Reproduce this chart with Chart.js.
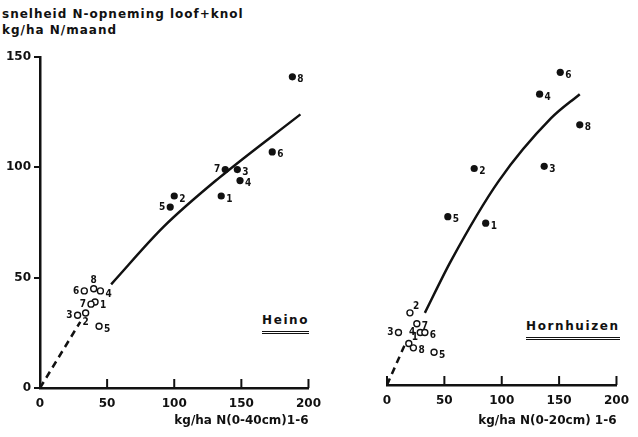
<!DOCTYPE html>
<html>
<head>
<meta charset="utf-8">
<script src="https://cdn.jsdelivr.net/npm/chart.js@4.4.1/dist/chart.umd.min.js"></script>
<style>
  body { margin: 0; background: #fff; width: 638px; height: 437px; overflow: hidden; position: relative;
         font-family: "DejaVu Sans", sans-serif; font-weight: bold; color: #111; }
  canvas { position: absolute; top: 0; }
  .txt { position: absolute; font-size: 12px; white-space: nowrap; letter-spacing: 1px; }
  .site { border-bottom: 3px double #111; padding-bottom: 4px; letter-spacing: 1.6px; }
</style>
</head>
<body>
<div class="txt" style="left:2px;top:7px">snelheid N-opneming loof+knol</div>
<div class="txt" style="left:2px;top:23px">kg/ha N/maand</div>
<div class="txt site" style="left:262px;top:313px">Heino</div>
<div class="txt site" style="left:526px;top:319px">Hornhuizen</div>
<canvas id="left" width="330" height="437" style="left:0"></canvas>
<canvas id="right" width="308" height="437" style="left:330px"></canvas>
<script>
// ── Data ──────────────────────────────────────────────────────────────────
const pointLabels = ['1', '2', '3', '4', '5', '6', '7', '8']

// Heino, kg/ha N (0-40 cm)
const heinoFilledX = [135, 100, 147, 149, 97, 173, 138, 188]
const heinoFilledY = [87, 87, 99, 94, 82, 107, 99, 141]
const heinoOpenX   = [41, 34, 28, 45, 44, 33, 38, 40]
const heinoOpenY   = [39, 34, 33, 44, 28, 44, 38, 45]
const heinoCurveX  = [53, 92, 133, 194]
const heinoCurveY  = [47, 73, 95, 124]
const heinoDashX   = [0, 30]
const heinoDashY   = [0, 30]

// Hornhuizen, kg/ha N (0-20 cm) – no point 7 visible among the filled ones
const hornFilledLabels = ['1', '2', '3', '4', '5', '6', '8']
const hornFilledX = [86, 76, 137, 133, 53, 151, 168]
const hornFilledY = [74, 99, 100, 133, 77, 143, 119]
const hornOpenX   = [19, 20, 10, 29, 41, 33, 26, 23]
const hornOpenY   = [19, 33, 24, 24, 15, 24, 28, 17]
const hornCurveX  = [33, 56, 97, 143, 168]
const hornCurveY  = [33, 57, 93, 122, 133]
const hornDashX   = [0, 16]
const hornDashY   = [0, 19]

const xTicks = [0, 50, 100, 150, 200]
const yTicks = [0, 50, 100, 150]

// where each number sits relative to its point (default: right, subscript-ish)
const sides = {
  heinoFilled: { '5': 'l', '7': 'l' },
  heinoOpen:   { '3': 'l', '6': 'l', '7': 'l', '8': 't', '2': 'b' },
  hornOpen:    { '3': 'l', '4': 'l', '2': 'tr', '1': 'tr' }
}

const INK = '#111'
const xy = (xs, ys) => xs.map((x, i) => ({ x, y: ys[i] }))

// ── Plugin: point numbers + inward x tick marks ──────────────────────────
const marks = {
  id: 'marks',
  afterDatasetsDraw(chart) {
    const ctx = chart.ctx
    ctx.save()
    ctx.fillStyle = INK
    ctx.font = 'bold 10px "DejaVu Sans Condensed", "DejaVu Sans"'
    ctx.textBaseline = 'middle'
    chart.data.datasets.forEach((ds, i) => {
      if (!ds.numbers) return
      chart.getDatasetMeta(i).data.forEach((el, j) => {
        const lab = ds.numbers[j]
        const side = (ds.sides && ds.sides[lab]) || 'r'
        let dx = 5, dy = 3, align = 'left'
        if (side === 'l') { dx = -5; dy = 0; align = 'right' }
        if (side === 't') { dx = 0; dy = -8; align = 'center' }
        if (side === 'b') { dx = 0; dy = 9; align = 'center' }
        if (side === 'tr') { dx = 3; dy = -6; align = 'left' }
        ctx.textAlign = align
        ctx.fillText(lab, el.x + dx, el.y + dy)
      })
    })
    const xs = chart.scales.x
    const yb = chart.chartArea.bottom
    ctx.strokeStyle = INK
    ctx.lineWidth = 2
    xs.ticks.forEach(t => {
      const px = xs.getPixelForValue(t.value)
      ctx.beginPath(); ctx.moveTo(px, yb); ctx.lineTo(px, yb - 9); ctx.stroke()
    })
    ctx.restore()
  }
}

function makePanel(canvas, o) {
  return new Chart(canvas.getContext('2d'), {
    type: 'scatter',
    data: {
      datasets: [
        { data: xy(o.curveX, o.curveY), showLine: true, borderColor: INK, borderWidth: 2.5,
          pointRadius: 0, cubicInterpolationMode: 'monotone' },
        { data: xy(o.dashX, o.dashY), showLine: true, borderColor: INK, borderWidth: 2.5,
          borderDash: [7, 5], pointRadius: 0 },
        { data: xy(o.openX, o.openY), pointRadius: 3, backgroundColor: '#fff', borderColor: INK,
          borderWidth: 1.4, numbers: pointLabels, sides: o.openSides },
        { data: xy(o.filledX, o.filledY), pointRadius: 3.6, backgroundColor: INK, borderColor: INK,
          borderWidth: 0, numbers: o.filledLabels, sides: o.filledSides }
      ]
    },
    options: {
      responsive: false,
      animation: false,
      layout: { padding: o.padding },
      plugins: { legend: { display: false }, tooltip: { enabled: false } },
      scales: {
        x: {
          min: 0, max: 200,
          afterBuildTicks: s => { s.ticks = xTicks.map(v => ({ value: v })) },
          afterFit: s => { s.height = o.xHeight },
          grid: { display: false, drawTicks: false },
          border: { display: true, color: INK, width: 2.5 },
          ticks: { color: INK, padding: 9, maxRotation: 0, autoSkip: false,
                   font: { family: 'DejaVu Sans', weight: 'bold', size: 12 } },
          title: { display: true, text: o.xTitle, align: 'end', color: INK,
                   padding: { top: 0, bottom: 9 },
                   font: { family: 'DejaVu Sans', weight: 'bold', size: 12 } }
        },
        y: {
          display: o.showY,
          min: 0, max: 150,
          afterBuildTicks: s => { s.ticks = yTicks.map(v => ({ value: v })) },
          afterFit: s => { s.width = 40 },
          grid: { display: true, drawOnChartArea: false, drawTicks: true, tickLength: 6,
                  color: INK, lineWidth: 2 },
          border: { display: true, color: INK, width: 2.5 },
          ticks: { color: INK, padding: 3,
                   font: { family: 'DejaVu Sans', weight: 'bold', size: 12 } }
        }
      }
    },
    plugins: [marks]
  })
}

makePanel(document.getElementById('left'), {
  curveX: heinoCurveX, curveY: heinoCurveY, dashX: heinoDashX, dashY: heinoDashY,
  openX: heinoOpenX, openY: heinoOpenY, openSides: sides.heinoOpen,
  filledX: heinoFilledX, filledY: heinoFilledY, filledLabels: pointLabels, filledSides: sides.heinoFilled,
  xTitle: 'kg/ha N(0-40cm)1-6', showY: true, xHeight: 49,
  padding: { top: 57, right: 14, left: 0, bottom: 0 }
})

makePanel(document.getElementById('right'), {
  curveX: hornCurveX, curveY: hornCurveY, dashX: hornDashX, dashY: hornDashY,
  openX: hornOpenX, openY: hornOpenY, openSides: sides.hornOpen,
  filledX: hornFilledX, filledY: hornFilledY, filledLabels: hornFilledLabels, filledSides: {},
  xTitle: 'kg/ha N(0-20cm) 1-6', showY: false, xHeight: 52,
  padding: { top: 57, right: 16, left: 17, bottom: 0 }
})
</script>
</body>
</html>
